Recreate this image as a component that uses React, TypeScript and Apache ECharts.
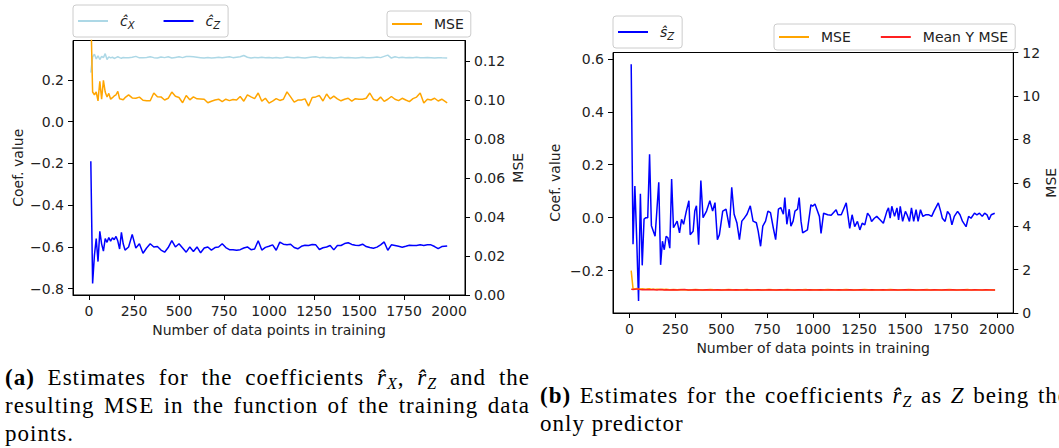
import React, { useEffect, useRef } from "react";
import * as echarts from "echarts";

// ---- data ----
const xs = [10, 20, 30, 40, 50, 60, 70, 80, 90, 100, 110, 120, 130, 140, 150, 160, 170, 180, 190, 200,
  220, 240, 260, 280, 300, 320, 340, 360, 380, 400, 420, 440, 460, 480, 500, 520, 540, 560, 580, 600,
  620, 640, 660, 680, 700, 720, 740, 760, 780, 800, 820, 840, 860, 880, 900, 920, 940, 960, 980, 1000,
  1020, 1040, 1060, 1080, 1100, 1120, 1140, 1160, 1180, 1200, 1220, 1240, 1260, 1280, 1300, 1320, 1340, 1360, 1380, 1400,
  1420, 1440, 1460, 1480, 1500, 1520, 1540, 1560, 1580, 1600, 1620, 1640, 1660, 1680, 1700, 1720, 1740, 1760, 1780, 1800,
  1820, 1840, 1860, 1880, 1900, 1920, 1940, 1960, 1990];

const coefX = [0.234, 0.31, 0.322, 0.3, 0.315, 0.297, 0.312, 0.306, 0.325, 0.297, 0.31, 0.305, 0.308, 0.302, 0.306, 0.31, 0.306, 0.303, 0.307, 0.305,
  0.306, 0.308, 0.312, 0.305, 0.306, 0.307, 0.31, 0.306, 0.304, 0.309, 0.306, 0.31, 0.304, 0.307, 0.31, 0.306, 0.311, 0.312, 0.31, 0.308,
  0.306, 0.304, 0.307, 0.304, 0.306, 0.308, 0.306, 0.308, 0.31, 0.306, 0.308, 0.31, 0.316, 0.308, 0.304, 0.307, 0.305, 0.308, 0.306, 0.307,
  0.304, 0.307, 0.304, 0.306, 0.309, 0.307, 0.305, 0.308, 0.306, 0.304, 0.307, 0.309, 0.31, 0.306, 0.308, 0.305, 0.307, 0.304, 0.306, 0.308,
  0.305, 0.307, 0.306, 0.304, 0.306, 0.308, 0.306, 0.305, 0.307, 0.309, 0.306, 0.312, 0.318, 0.304, 0.31, 0.306, 0.308, 0.305, 0.307, 0.306,
  0.308, 0.306, 0.305, 0.307, 0.306, 0.304, 0.306, 0.305, 0.304];

const coefZ = [-0.19, -0.775, -0.64, -0.56, -0.67, -0.525, -0.585, -0.62, -0.56, -0.578, -0.555, -0.572, -0.556, -0.565, -0.55, -0.572, -0.61, -0.53, -0.585, -0.615,
  -0.6, -0.54, -0.605, -0.585, -0.63, -0.605, -0.585, -0.6, -0.598, -0.615, -0.625, -0.603, -0.57, -0.6, -0.585, -0.605, -0.625, -0.6, -0.622, -0.6,
  -0.628, -0.605, -0.6, -0.615, -0.603, -0.6, -0.585, -0.603, -0.613, -0.613, -0.616, -0.613, -0.605, -0.6, -0.613, -0.61, -0.57, -0.615, -0.602, -0.597,
  -0.59, -0.616, -0.577, -0.587, -0.59, -0.587, -0.603, -0.609, -0.597, -0.592, -0.593, -0.588, -0.59, -0.612, -0.604, -0.6, -0.593, -0.614, -0.593, -0.593,
  -0.584, -0.58, -0.588, -0.592, -0.593, -0.587, -0.598, -0.603, -0.606, -0.601, -0.59, -0.576, -0.616, -0.59, -0.593, -0.597, -0.601, -0.597, -0.592, -0.593,
  -0.593, -0.59, -0.593, -0.59, -0.59, -0.598, -0.608, -0.598, -0.595];

const mseA = [0.145, 0.104, 0.1026, 0.104, 0.0995, 0.1095, 0.1003, 0.11, 0.104, 0.1015, 0.1033, 0.1003, 0.1011, 0.102, 0.1026, 0.1043, 0.1005, 0.1003, 0.1, 0.1011,
  0.1025, 0.101, 0.1008, 0.1014, 0.0998, 0.0995, 0.0995, 0.1035, 0.1016, 0.1015, 0.0999, 0.1008, 0.104, 0.1018, 0.1012, 0.0985, 0.1022, 0.1, 0.1015, 0.1005,
  0.1004, 0.1003, 0.0985, 0.0993, 0.0999, 0.1003, 0.0991, 0.1003, 0.0996, 0.1002, 0.0999, 0.1017, 0.0993, 0.1025, 0.1015, 0.1006, 0.1035, 0.0993, 0.1008, 0.0983,
  0.0993, 0.1006, 0.0997, 0.1003, 0.1041, 0.1015, 0.0988, 0.0999, 0.0999, 0.1005, 0.0968, 0.1012, 0.1015, 0.1022, 0.0994, 0.103, 0.1005, 0.1019, 0.1005, 0.0995,
  0.1003, 0.1008, 0.0993, 0.1006, 0.1003, 0.1003, 0.1008, 0.1035, 0.1003, 0.0996, 0.1014, 0.0992, 0.1003, 0.1017, 0.1003, 0.0996, 0.1008, 0.0999, 0.0991, 0.1006,
  0.1014, 0.1035, 0.0984, 0.1003, 0.0999, 0.1008, 0.0994, 0.1003, 0.0985];

// s_Z estimate (read at its own, denser x positions)
const xsS = [10, 20, 30, 40, 50, 60, 70, 80, 90, 100, 110, 120, 130, 140, 150, 160, 170, 180, 190, 200, 210, 220, 230, 240,
  260, 273, 284, 295, 310, 324, 331, 347, 356, 365, 377, 389, 401, 420, 438, 453, 466, 479, 490, 508, 526, 545, 557, 570, 585, 599,
  612, 627, 640, 658, 673, 691, 701, 714, 726, 741, 754, 768, 783, 796, 811, 824, 838, 846, 857, 870, 879, 891, 901, 915, 924, 934, 943,
  969, 988, 997, 1010, 1021, 1034, 1043, 1057, 1079, 1098, 1125, 1135, 1153, 1180, 1199, 1212, 1226, 1241, 1254, 1267,
  1281, 1296, 1309, 1318, 1333, 1346, 1364, 1382, 1401, 1410, 1419, 1428, 1443, 1456, 1465, 1474, 1487, 1502, 1511, 1524,
  1535, 1547, 1560, 1571, 1584, 1597, 1612, 1630, 1645, 1657, 1681, 1694, 1703, 1718, 1731, 1744, 1755, 1768, 1786, 1799,
  1813, 1832, 1846, 1859, 1878, 1891, 1905, 1920, 1933, 1946, 1957, 1969, 1988];

const coefSZ = [0.58, -0.1, 0.12, -0.08, -0.315, 0.09, -0.18, -0.005, 0.0, 0.0, 0.24, -0.03, -0.05, -0.07, 0.03, 0.134, -0.178, -0.089, -0.121, -0.07, -0.076, -0.115, 0.146, -0.038,
  -0.013, -0.057, -0.006, -0.025, 0.025, 0.064, -0.064, -0.051, 0.025, 0.045, -0.102, 0.14, 0.0, 0.025, 0.064, 0.025, 0.057, -0.083, -0.064, 0.025, 0.032, -0.038, 0.115, 0.013, -0.019, -0.083,
  -0.013, 0.0, 0.013, 0.045, -0.013, -0.019, -0.051, -0.108, -0.032, -0.013, 0.025, 0.019, -0.038, -0.083, 0.032, 0.038, 0.013, 0.076, -0.025, 0.032, -0.032, -0.013, 0.025, 0.032, 0.076, -0.013, -0.057,
  -0.046, 0.049, 0.043, 0.052, 0.03, 0.005, -0.059, 0.017, 0.011, 0.009, 0.03, 0.011, 0.011, 0.056, -0.04, 0.011, -0.034, -0.014, -0.046, -0.021,
  -0.027, 0.017, 0.005, -0.014, -0.002, 0.005, -0.008, -0.021, 0.024, 0.037, -0.002, 0.043, 0.005, 0.037, -0.008, 0.043, -0.014, 0.024, 0.011, -0.014,
  0.037, -0.014, 0.03, -0.014, 0.03, 0.005, 0.011, 0.011, 0.005, 0.024, 0.056, 0.024, -0.002, -0.014, 0.024, 0.011, -0.027, 0.005, 0.024, 0.011,
  -0.014, -0.034, 0.005, -0.002, 0.017, 0.011, 0.017, 0.005, 0.017, 0.011, -0.008, 0.011, 0.017];

const mseB = [1.95, 1.12, 1.11, 1.13, 1.1, 1.11, 1.12, 1.1, 1.09, 1.11, 1.12, 1.09, 1.1, 1.08, 1.1, 1.09, 1.08, 1.09, 1.08, 1.09,
  1.07, 1.08, 1.07, 1.08, 1.07, 1.06, 1.07, 1.08, 1.07, 1.06, 1.07, 1.08, 1.07, 1.07, 1.06, 1.07, 1.08, 1.07, 1.06, 1.07,
  1.07, 1.08, 1.06, 1.07, 1.07, 1.06, 1.07, 1.08, 1.07, 1.06, 1.07, 1.07, 1.08, 1.07, 1.06, 1.07, 1.07, 1.08, 1.06, 1.07,
  1.07, 1.06, 1.07, 1.08, 1.07, 1.07, 1.06, 1.07, 1.08, 1.07, 1.06, 1.07, 1.07, 1.08, 1.07, 1.06, 1.07, 1.07, 1.06, 1.07,
  1.08, 1.07, 1.06, 1.07, 1.07, 1.08, 1.07, 1.06, 1.07, 1.07, 1.08, 1.06, 1.07, 1.07, 1.06, 1.07, 1.08, 1.07, 1.06, 1.07,
  1.07, 1.08, 1.06, 1.07, 1.07, 1.06, 1.07, 1.07, 1.06];

const meanYMse = [1.1, 1.08, 1.09, 1.1, 1.1, 1.08, 1.07, 1.08, 1.07, 1.08, 1.07, 1.07, 1.08, 1.07, 1.06, 1.07, 1.08, 1.07, 1.06, 1.07,
  1.06, 1.07, 1.06, 1.07, 1.08, 1.06, 1.06, 1.07, 1.06, 1.06, 1.07, 1.06, 1.06, 1.07, 1.06, 1.06, 1.07, 1.06, 1.07, 1.06,
  1.06, 1.07, 1.06, 1.06, 1.07, 1.06, 1.06, 1.07, 1.06, 1.06, 1.07, 1.06, 1.07, 1.06, 1.06, 1.07, 1.06, 1.06, 1.07, 1.06,
  1.06, 1.07, 1.06, 1.06, 1.07, 1.06, 1.07, 1.06, 1.06, 1.07, 1.06, 1.06, 1.07, 1.06, 1.06, 1.07, 1.06, 1.06, 1.07, 1.06,
  1.06, 1.07, 1.06, 1.06, 1.07, 1.06, 1.07, 1.06, 1.06, 1.07, 1.06, 1.06, 1.07, 1.06, 1.06, 1.07, 1.06, 1.07, 1.06, 1.06,
  1.07, 1.06, 1.06, 1.07, 1.06, 1.06, 1.07, 1.06, 1.06];

const xTicks = [0, 250, 500, 750, 1000, 1250, 1500, 1750, 2000];
const coefTicksA = [-0.8, -0.6, -0.4, -0.2, 0, 0.2];
const mseTicksA = [0, 0.02, 0.04, 0.06, 0.08, 0.1, 0.12];
const coefTicksB = [-0.2, 0, 0.2, 0.4, 0.6];
const mseTicksB = [0, 2, 4, 6, 8, 10, 12];

const pairs = (xArr: number[], vals: number[]) => xArr.map((x, i) => [x, vals[i]]);

const FONT = "DejaVu Sans";
const TXT = "#222";

const fmt = (d: number) => (v: number) => {
  const a = Math.abs(v) < 1e-9 ? 0 : v;
  return (a < 0 ? "\u2212" : "") + Math.abs(a).toFixed(d);
};

function makeAxis(ticks: number[], formatter: (v: number) => string, extra: any) {
  return {
    type: "value",
    axisLine: { show: true, onZero: false, lineStyle: { color: "#000", width: 1 } },
    axisTick: { show: true, length: 5, customValues: ticks, lineStyle: { color: "#000", width: 1 } },
    axisLabel: { customValues: ticks, formatter, color: TXT, fontSize: 14, fontFamily: FONT, margin: 9 },
    splitLine: { show: false },
    nameLocation: "middle",
    nameTextStyle: { color: TXT, fontSize: 14, fontFamily: FONT },
    ...extra,
  };
}

const legendRich = {
  it: { fontStyle: "italic", fontSize: 14, fontFamily: FONT, color: TXT, lineHeight: 18, verticalAlign: "middle" },
  sub: { fontStyle: "italic", fontSize: 10, fontFamily: FONT, color: TXT, lineHeight: 10, verticalAlign: "bottom" },
};

const legendNames: Record<string, string> = {
  cX: "{it|\u0109}{sub|X}",
  cZ: "{it|\u0109}{sub|Z}",
  sZ: "{it|\u015D}{sub|Z}",
  MSE: "MSE",
  "MSE ": "MSE",
  "Mean Y MSE": "Mean Y MSE",
};

function legend(data: string[], left: number, top: number, padding: number[], itemGap: number) {
  return {
    data,
    left,
    top,
    orient: "horizontal",
    padding,
    itemGap,
    itemWidth: 30,
    itemHeight: 2,
    icon: "rect",
    selectedMode: false,
    backgroundColor: "rgba(255,255,255,0.8)",
    borderColor: "#cccccc",
    borderWidth: 1,
    borderRadius: 3,
    formatter: (n: string) => legendNames[n] ?? n,
    textStyle: { color: TXT, fontSize: 14, fontFamily: FONT, padding: [0, 0, 0, 7], lineHeight: 16, rich: legendRich },
  };
}

function line(name: string, xArr: number[], vals: number[], color: string, xi: number, yi: number, opacity = 1) {
  return {
    type: "line",
    name,
    data: pairs(xArr, vals),
    xAxisIndex: xi,
    yAxisIndex: yi,
    color,
    showSymbol: false,
    symbol: "none",
    lineStyle: { color, width: 1.5, opacity },
    itemStyle: { color },
    emphasis: { disabled: true },
  };
}

function Chart() {
  const ref = useRef<HTMLDivElement>(null);
  useEffect(() => {
    const chart = echarts.init(ref.current!, undefined, { renderer: "svg" });
    chart.setOption({
      animation: false,
      backgroundColor: "#fff",
      grid: [
        { left: 73, top: 40.5, width: 392, height: 254.5, show: true, borderColor: "#000", borderWidth: 1, backgroundColor: "transparent" },
        { left: 613, top: 52.5, width: 402, height: 262.5, show: true, borderColor: "#000", borderWidth: 1, backgroundColor: "transparent" },
      ],
      legend: [
        legend(["cX", "cZ"], 73, 5, [7, 8, 7, 5], 29),
        legend(["MSE"], 387, 11, [5, 7, 5, 5], 30),
        legend(["sZ"], 613, 16, [7, 8, 7, 5], 30),
        legend(["MSE ", "Mean Y MSE"], 774, 24, [5, 7, 5, 5], 30),
      ],
      xAxis: [
        makeAxis(xTicks, (v) => String(v), { gridIndex: 0, min: -89, max: 2089, position: "bottom", name: "Number of data points in training", nameGap: 28 }),
        makeAxis(xTicks, (v) => String(v), { gridIndex: 1, min: -89, max: 2089, position: "bottom", name: "Number of data points in training", nameGap: 28 }),
      ],
      yAxis: [
        makeAxis(coefTicksA, fmt(1), { gridIndex: 0, min: -0.83, max: 0.388, position: "left", name: "Coef. value", nameGap: 48 }),
        makeAxis(mseTicksA, fmt(2), { gridIndex: 0, min: 0, max: 0.1304, position: "right", name: "MSE", nameGap: 46 }),
        makeAxis(coefTicksB, fmt(1), { gridIndex: 1, min: -0.36, max: 0.624, position: "left", name: "Coef. value", nameGap: 51 }),
        makeAxis(mseTicksB, (v) => String(v), { gridIndex: 1, min: 0, max: 12, position: "right", name: "MSE", nameGap: 30 }),
      ],
      series: [
        line("cX", xs, coefX, "#add8e6", 0, 0),
        line("cZ", xs, coefZ, "#0000ff", 0, 0),
        line("MSE", xs, mseA, "#ffa500", 0, 1),
        line("sZ", xsS, coefSZ, "#0000ff", 1, 2),
        line("MSE ", xs, mseB, "#ffa500", 1, 3),
        line("Mean Y MSE", xs, meanYMse, "#ff2020", 1, 3, 1),
      ],
    });
    return () => chart.dispose();
  }, []);
  return <div ref={ref} style={{ position: "absolute", left: 0, top: 0, width: 1059, height: 360 }} />;
}

const SERIF = '"Liberation Serif", "DejaVu Serif", serif';

function Hat({ b, sub }: { b: string; sub?: string }) {
  return (
    <span style={{ fontStyle: "italic" }}>
      {b}
      {"\u0302"}
      {sub ? <span style={{ fontSize: 16, position: "relative", top: 4 }}>{sub}</span> : null}
    </span>
  );
}

const lineStyle = (w: number, justify: boolean): React.CSSProperties => ({
  width: w,
  height: 28,
  whiteSpace: "nowrap",
  textAlign: justify ? "justify" : "left",
  textAlignLast: justify ? "justify" : "left",
});

const capBox: React.CSSProperties = {
  position: "absolute",
  fontFamily: SERIF,
  fontSize: 23,
  letterSpacing: "1px",
  lineHeight: "28px",
  color: "#000",
};

export default function App() {
  return (
    <div style={{ position: "fixed", left: 0, top: 0, width: 1059, height: 448, overflow: "hidden", background: "#fff" }}>
      <Chart />
      <div style={{ ...capBox, left: 5, top: 364 }}>
        <div style={lineStyle(525, true)}>
          <b>(a)</b> Estimates for the coefficients <Hat b="r" sub="X" />, <Hat b="r" sub="Z" /> and the
        </div>
        <div style={lineStyle(525, true)}>resulting MSE in the function of the training data</div>
        <div style={lineStyle(525, false)}>points.</div>
      </div>
      <div style={{ ...capBox, left: 540, top: 382 }}>
        <div style={lineStyle(529, true)}>
          <b>(b)</b> Estimates for the coefficients <Hat b="r" sub="Z" /> as <i>Z</i> being the
        </div>
        <div style={lineStyle(529, false)}>only predictor</div>
      </div>
    </div>
  );
}
